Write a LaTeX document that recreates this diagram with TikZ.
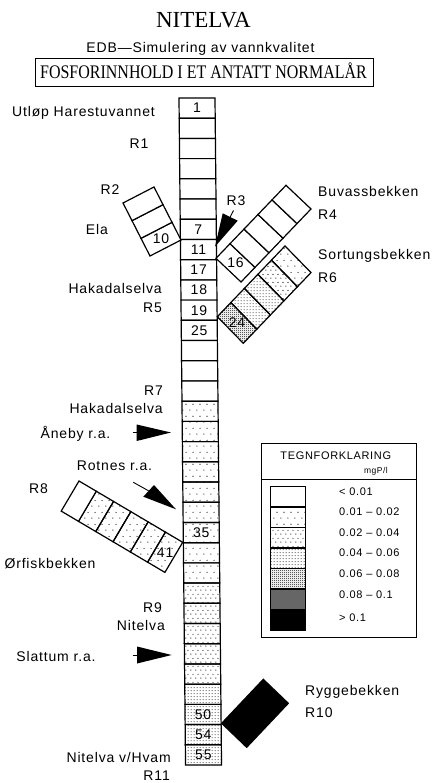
\documentclass[tikz,border=0pt]{standalone}
\usepackage{fontspec}
\setmainfont{Liberation Serif}
\newfontfamily\plotfont[LetterSpace=6]{Liberation Sans}
\usetikzlibrary{calc,patterns}

\pgfdeclarepatternformonly{dotsA}{\pgfqpoint{0pt}{0pt}}{\pgfqpoint{7pt}{12pt}}{\pgfqpoint{7pt}{12pt}}{%
  \pgfpathcircle{\pgfqpoint{1pt}{1pt}}{0.65pt}%
  \pgfpathcircle{\pgfqpoint{4.5pt}{7pt}}{0.65pt}%
  \pgfusepath{fill}}
\pgfdeclarepatternformonly{dotsB}{\pgfqpoint{0pt}{0pt}}{\pgfqpoint{5pt}{8pt}}{\pgfqpoint{5pt}{8pt}}{%
  \pgfpathcircle{\pgfqpoint{1pt}{1pt}}{0.65pt}%
  \pgfpathcircle{\pgfqpoint{3.5pt}{5pt}}{0.65pt}%
  \pgfusepath{fill}}
\pgfdeclarepatternformonly{dotsC}{\pgfqpoint{0pt}{0pt}}{\pgfqpoint{2.6pt}{3.2pt}}{\pgfqpoint{2.6pt}{3.2pt}}{%
  \pgfpathcircle{\pgfqpoint{1.3pt}{1.6pt}}{0.55pt}%
  \pgfusepath{fill}}
\pgfdeclarepatternformonly{dotsD}{\pgfqpoint{0pt}{0pt}}{\pgfqpoint{2pt}{2pt}}{\pgfqpoint{2pt}{2pt}}{%
  \pgfpathcircle{\pgfqpoint{0.5pt}{0.5pt}}{0.5pt}%
  \pgfpathcircle{\pgfqpoint{1.5pt}{1.5pt}}{0.5pt}%
  \pgfusepath{fill}}

\newcommand\branchcell[6]{%
  \draw[cellline,#6] ($#1+{#4/#5}*#2$) -- ($#1+{(#4+1)/#5}*#2$) --
    ($#1+{(#4+1)/#5}*#2+#3$) -- ($#1+{#4/#5}*#2+#3$) -- cycle;}

\tikzset{
  cellline/.style={draw=black, line width=1.2pt, line join=miter},
  lv0/.style={fill=white},
  lv1/.style={pattern=dotsA},
  lv2/.style={pattern=dotsB},
  lv3/.style={pattern=dotsC},
  lv4/.style={pattern=dotsD},
  lv5/.style={fill=black!60},
  lv6/.style={fill=black},
  lbl/.style={font={\plotfont\fontsize{14pt}{16pt}\selectfont}, inner sep=0pt},
  numtxt/.style={font={\plotfont\fontsize{14pt}{16pt}\selectfont}, inner sep=0pt},
  legtxt/.style={font={\plotfont\fontsize{11pt}{13pt}\selectfont}, inner sep=0pt},
  arrowhead/.style={fill=black},
  stem/.style={draw=black, line width=0.9pt}
}

\begin{document}
\begin{tikzpicture}[x=1pt,y=-1pt]
\useasboundingbox (0,0) rectangle (436,783);
\fill[white] (0,0) rectangle (436,783);

% titles
\node[font={\fontsize{23pt}{26pt}\selectfont}, anchor=base, inner sep=0pt] (title) at (203.4,28) {NITELVA};
\node[lbl, anchor=base] (sub) at (200.5,53) {EDB—Simulering av vannkvalitet};
\node[draw, line width=1pt, minimum width=338pt, minimum height=28pt, inner sep=0pt] (box) at (204,73) {};
\node[font={\fontsize{16pt}{18pt}\selectfont}, anchor=base, inner sep=0pt] (boxtxt) at (203.5,79) {\scalebox{1}[1.2]{FOSFORINNHOLD I ET ANTATT NORMALÅR}};

% main column
\foreach \i in {0,...,32}{
  \pgfmathsetmacro\ya{98+\i*20.212}
  \pgfmathsetmacro\yb{\ya+20.212}
  \pgfmathsetmacro\xa{179+(\ya-98)*0.0098}
  \pgfmathsetmacro\xb{179+(\yb-98)*0.0098}
  \pgfmathtruncatemacro\lv{\i<15 ? 0 : (\i<24 ? 1 : (\i<29 ? 2 : 3))}
  \draw[cellline, lv\lv] (\xa,\ya) -- ({\xa+36},\ya) -- ({\xb+36},\yb) -- (\xb,\yb) -- cycle;
  \coordinate (c\i) at ({(\xa+\xb)/2+18},{(\ya+\yb)/2});
}
\foreach \i/\t in {0/1,6/7,7/11,8/17,9/18,10/19,11/25,21/35,30/50,31/54,32/55}
  \node[numtxt] (num\t) at (c\i) {\t};

% R2 branch (Ela)
\foreach \k in {0,1,2}
  \branchcell{(181,240)}{(-27,-53)}{(-31,16)}{\k}{3}{lv0};
\coordinate (b10) at ($(181,240)+{0.5/3}*(-27,-53)+0.5*(-31,16)$);
\node[numtxt] (num10) at (b10) {10};

% R4 branch (Buvassbekken)
\foreach \k in {0,...,4}
  \branchcell{(216,258.3)}{(70,-73)}{(25,23.7)}{\k}{5}{lv0};
\coordinate (b16) at ($(216,258.3)+{0.5/5}*(70,-73)+0.5*(25,23.7)$);
\node[numtxt] (num16) at (b16) {16};

% R6 branch (Sortungsbekken)
\foreach \k/\st in {0/lv4,1/lv3,2/lv3,3/lv2,4/lv1}
  \branchcell{(217.3,316.7)}{(67.7,-70.7)}{(26,26.6)}{\k}{5}{\st};
\coordinate (b24) at ($(217.3,316.7)+{0.5/5}*(67.7,-70.7)+0.5*(26,26.6)$);
\node[numtxt] (num24) at (b24) {24};

% R8 branch (Orfiskbekken)
\foreach \k/\st in {0/lv1,1/lv1,2/lv1,3/lv1,4/lv1,5/lv0}
  \branchcell{(182.7,542.3)}{(-103.7,-61.3)}{(-17.8,30.1)}{\k}{6}{\st};
\coordinate (b41) at ($(182.7,542.3)+{0.5/6}*(-103.7,-61.3)+0.5*(-17.8,30.1)$);
\node[numtxt] (num41) at (b41) {41};

% R10 branch (Ryggebekken)
\coordinate (r10a) at (221.7,723.3);
\draw[cellline, lv6] (r10a) -- ++(41.6,-44) -- ++(25,24) -- ++(-41.6,44) -- cycle;

% R3 arrow
\coordinate (r3tip) at (215,246.7);
\coordinate (r3b1) at (222.7,213.3);
\coordinate (r3b2) at (237.7,220.7);
\coordinate (r3s) at (233.5,210.5);
\fill[arrowhead] (r3tip) -- (r3b1) -- (r3b2) -- cycle;
\draw[stem] ($(r3b1)!0.5!(r3b2)$) -- (r3s);

% Aneby arrow
\coordinate (antip) at (171,432.5);
\coordinate (anb1) at (136.7,424.5);
\coordinate (anb2) at (136.7,441);
\coordinate (ans) at (132.5,432.5);
\fill[arrowhead] (antip) -- (anb1) -- (anb2) -- cycle;
\draw[stem] (ans) -- (137,432.5);

% Rotnes arrow
\coordinate (rotip) at (176,509.3);
\coordinate (rob1) at (143.3,496.7);
\coordinate (rob2) at (154,485);
\coordinate (ros) at (133.3,482.3);
\fill[arrowhead] (rotip) -- (rob1) -- (rob2) -- cycle;
\draw[stem] (ros) -- ($(rob1)!0.5!(rob2)$);

% Slattum arrow
\coordinate (sltip) at (171.7,655);
\coordinate (slb1) at (137,646.5);
\coordinate (slb2) at (137,663.5);
\coordinate (sls) at (132.5,655);
\fill[arrowhead] (sltip) -- (slb1) -- (slb2) -- cycle;
\draw[stem] (sls) -- (137.5,655);

% labels
\node[lbl, anchor=base] (lUtlop) at (83.5,116.7) {Utløp Harestuvannet};
\node[lbl, anchor=base] (lR1) at (139,148.3) {R1};
\node[lbl, anchor=base] (lR2) at (110,195) {R2};
\node[lbl, anchor=base east] (lEla) at (108,235) {Ela};
\node[lbl, anchor=base] (lR3) at (236,206) {R3};
\node[lbl, anchor=base west] (lBuv) at (318,196.7) {Buvassbekken};
\node[lbl, anchor=base west] (lR4) at (318,219.3) {R4};
\node[lbl, anchor=base west] (lSort) at (318,260) {Sortungsbekken};
\node[lbl, anchor=base west] (lR6) at (318,283) {R6};
\node[lbl, anchor=base east] (lHak1) at (162,293) {Hakadalselva};
\node[lbl, anchor=base east] (lR5) at (162,312) {R5};
\node[lbl, anchor=base east] (lR7) at (163,395) {R7};
\node[lbl, anchor=base east] (lHak2) at (163,413) {Hakadalselva};
\node[lbl, anchor=base] (lAne) at (75.5,438) {Åneby r.a.};
\node[lbl, anchor=base] (lRot) at (114.5,470) {Rotnes r.a.};
\node[lbl, anchor=base] (lR8) at (38.5,493) {R8};
\node[lbl, anchor=base] (lOrf) at (50,568) {Ørfiskbekken};
\node[lbl, anchor=base east] (lR9) at (162,612.7) {R9};
\node[lbl, anchor=base east] (lNit) at (165,630) {Nitelva};
\node[lbl, anchor=base] (lSla) at (56,661) {Slattum r.a.};
\node[lbl, anchor=base west] (lRyg) at (305,695) {Ryggebekken};
\node[lbl, anchor=base west] (lR10) at (305,717) {R10};
\node[lbl, anchor=base east] (lHvam) at (171,762) {Nitelva v/Hvam};
\node[lbl, anchor=base east] (lR11) at (170,780) {R11};

% legend
\node[draw, line width=1pt, minimum width=155pt, minimum height=194pt, inner sep=0pt] (legend) at (338.5,540) {};
\draw[line width=1pt] (legend.west |- 0,479) -- (legend.east |- 0,479);
\node[legtxt, anchor=base] (legtitle) at (335.8,459.5) {TEGNFORKLARING};
\node[font={\plotfont\fontsize{8.5pt}{10pt}\selectfont}, inner sep=0pt, anchor=base east] (legunit) at (388,473.3) {mgP/l};
\foreach \j/\st in {0/lv0,1/lv1,2/lv2,3/lv3,4/lv4,5/lv5,6/lv6}{
  \draw[cellline, \st] (270.7,{486.5+\j*20.5}) rectangle (305.7,{507+\j*20.5});
  \coordinate (sw\j) at (288.2,{496.75+\j*20.5});
}
\node[legtxt, anchor=base west] (lg0) at (339,495) {< 0.01};
\node[legtxt, anchor=base west] (lg1) at (339,515.2) {0.01 – 0.02};
\node[legtxt, anchor=base west] (lg2) at (339,536.5) {0.02 – 0.04};
\node[legtxt, anchor=base west] (lg3) at (339,556.7) {0.04 – 0.06};
\node[legtxt, anchor=base west] (lg4) at (339,577.3) {0.06 – 0.08};
\node[legtxt, anchor=base west] (lg5) at (339,598.3) {0.08 – 0.1};
\node[legtxt, anchor=base west] (lg6) at (339,621.5) {> 0.1};
\end{tikzpicture}
\end{document}
